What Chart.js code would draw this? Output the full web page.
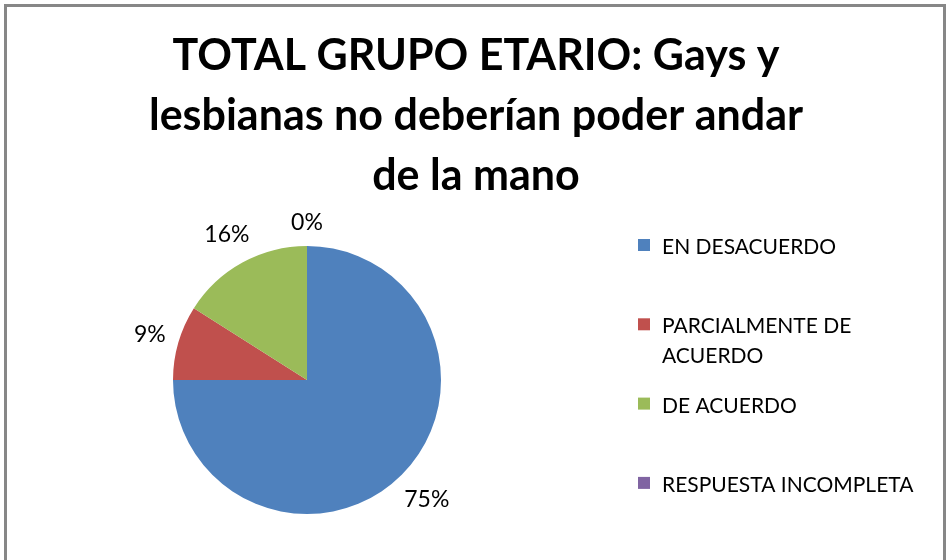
<!DOCTYPE html>
<html>
<head>
<meta charset="utf-8">
<script src="https://cdn.jsdelivr.net/npm/chart.js@4.4.0/dist/chart.umd.min.js"></script>
<style>
  html, body { margin: 0; padding: 0; background: #fff; }
  #chartWrap { width: 947px; height: 560px; }
</style>
</head>
<body>
<div id="chartWrap"><canvas id="pieChart" width="947" height="560"></canvas></div>
<script>
const titleLines = ["TOTAL GRUPO ETARIO: Gays y", "lesbianas no deberían poder andar", "de la mano"];
const categories = ["EN DESACUERDO", "PARCIALMENTE DE ACUERDO", "DE ACUERDO", "RESPUESTA INCOMPLETA"];
const legendLines = [["EN DESACUERDO"], ["PARCIALMENTE DE", "ACUERDO"], ["DE ACUERDO"], ["RESPUESTA INCOMPLETA"]];
const percentValues = [75, 9, 16, 0];
const sliceColors = ["#4F81BD", "#C0504D", "#9BBB59", "#8064A2"];

const FONT = "Lato, 'Open Sans', sans-serif";

// frame + title, drawn before the pie
const frameTitlePlugin = {
  id: "frameTitle",
  beforeDraw(chart) {
    const c = chart.ctx;
    c.save();
    c.fillStyle = "#fff";
    c.fillRect(0, 0, chart.width, chart.height);
    c.strokeStyle = "#878787";
    c.lineWidth = 3;
    c.strokeRect(5.5, 5.5, 939, 600);

    c.fillStyle = "#000";
    c.font = "bold 43px " + FONT;
    c.textAlign = "center";
    c.textBaseline = "alphabetic";
    titleLines.forEach((line, i) => {
      c.fillText(line, 476, 70 + i * 60);
    });
    c.restore();
  },
};

// legend on the right side + outside-end percentage labels
const legendLabelPlugin = {
  id: "legendLabels",
  afterDraw(chart) {
    const c = chart.ctx;
    c.save();
    c.font = "21px " + FONT;
    c.textAlign = "left";
    c.textBaseline = "alphabetic";
    legendLines.forEach((lines, i) => {
      const base = 254 + i * 79.3;
      c.fillStyle = sliceColors[i];
      c.fillRect(638, base - 15, 12, 12);
      c.fillStyle = "#000";
      lines.forEach((txt, j) => c.fillText(txt, 662, base + j * 30));
    });

    const meta = chart.getDatasetMeta(0);
    c.font = "23px " + FONT;
    c.textAlign = "center";
    c.textBaseline = "middle";
    meta.data.forEach((arc, i) => {
      const p = arc.getProps(["x", "y", "startAngle", "endAngle", "outerRadius"], true);
      const mid = (p.startAngle + p.endAngle) / 2;
      const ux = Math.cos(mid);
      const uy = Math.sin(mid);
      const txt = percentValues[i] + "%";
      const w = c.measureText(txt).width;
      const d = p.outerRadius + 11 + Math.abs(ux) * w / 2 + Math.abs(uy) * 12;
      c.fillStyle = "#000";
      c.fillText(txt, p.x + ux * d, p.y + uy * d);
    });
    c.restore();
  },
};

new Chart(document.getElementById("pieChart"), {
  type: "pie",
  data: {
    labels: categories,
    datasets: [
      {
        data: percentValues,
        backgroundColor: sliceColors,
        borderWidth: 0,
        offset: 0,
        hoverOffset: 0,
      },
    ],
  },
  options: {
    responsive: false,
    animation: false,
    layout: { padding: { left: 173, right: 506, top: 246, bottom: 46 } },
    plugins: {
      legend: { display: false },
      title: { display: false },
      tooltip: { enabled: false },
    },
  },
  plugins: [frameTitlePlugin, legendLabelPlugin],
});
</script>
</body>
</html>
